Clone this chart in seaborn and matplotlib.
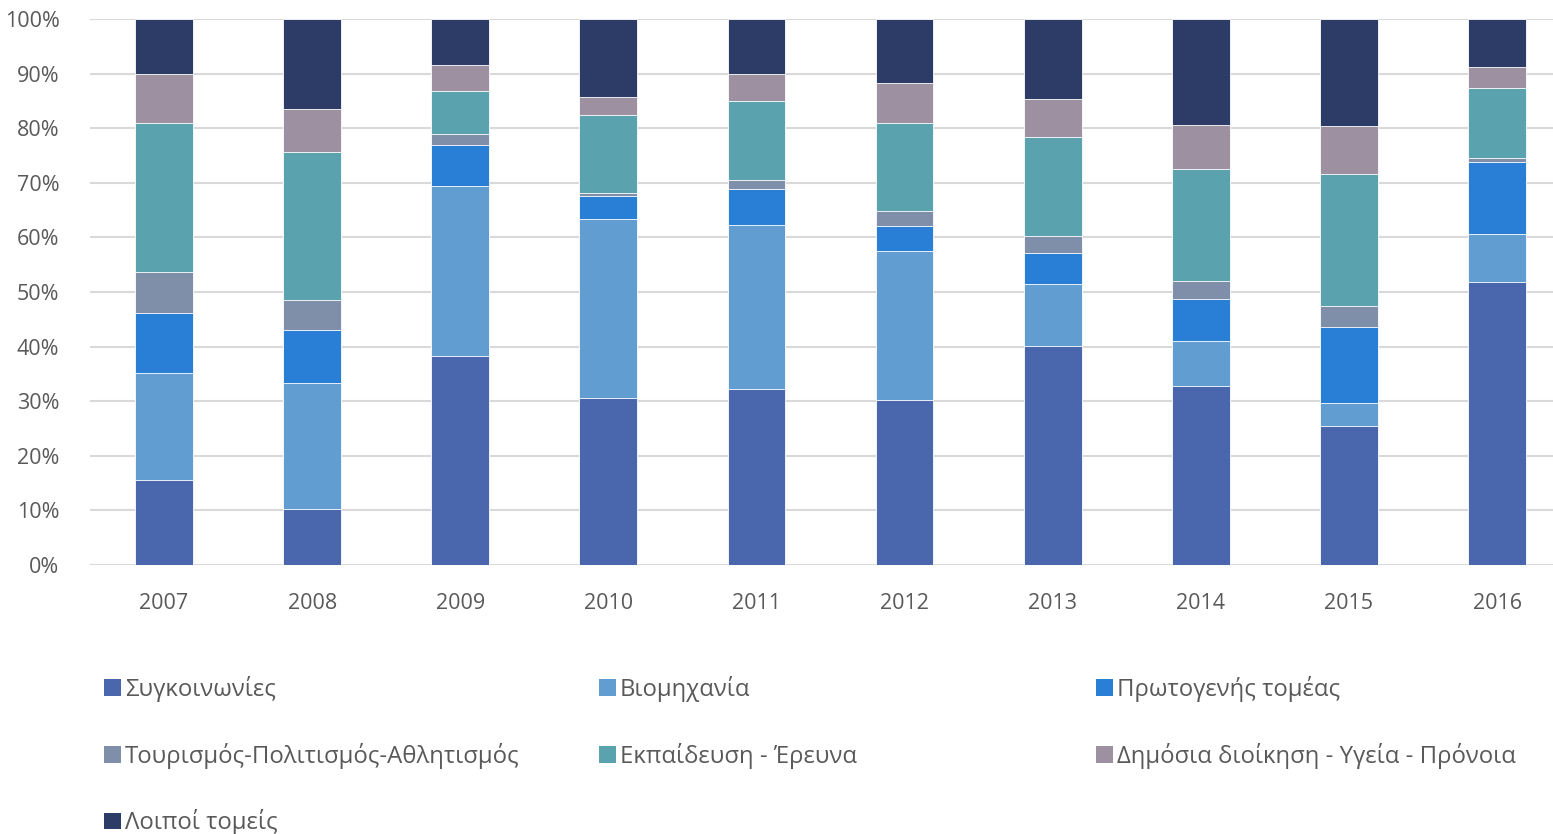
import matplotlib
matplotlib.use("Agg")
import matplotlib.pyplot as plt
from matplotlib.patches import Patch
from matplotlib.ticker import PercentFormatter
import numpy as np
import pandas as pd
import seaborn as sns

# Share of funding by sector, per year (%)
years = ["2007", "2008", "2009", "2010", "2011", "2012", "2013", "2014", "2015", "2016"]
sectors = [
    "Συγκοινωνίες",
    "Βιομηχανία",
    "Πρωτογενής τομέας",
    "Τουρισμός-Πολιτισμός-Αθλητισμός",
    "Εκπαίδευση - Έρευνα",
    "Δημόσια διοίκηση - Υγεία - Πρόνοια",
    "Λοιποί τομείς",
]
transport = [15.6, 10.3, 38.3, 30.6, 32.2, 30.2, 40.2, 32.7, 25.5, 51.8]
industry = [19.5, 23.0, 31.1, 32.8, 30.1, 27.3, 11.3, 8.3, 4.2, 8.8]
primary = [11.0, 9.8, 7.6, 4.1, 6.6, 4.6, 5.7, 7.8, 13.9, 13.3]
tourism = [7.6, 5.4, 1.9, 0.6, 1.7, 2.7, 3.0, 3.3, 3.8, 0.7]
education = [27.2, 27.2, 8.0, 14.3, 14.4, 16.1, 18.1, 20.5, 24.2, 12.7]
public = [9.1, 7.8, 4.7, 3.3, 5.0, 7.4, 7.0, 7.9, 8.8, 3.9]
other = [10.0, 16.5, 8.4, 14.3, 10.0, 11.7, 14.7, 19.5, 19.6, 8.8]

colors = ["#4A66AC", "#629DD1", "#297FD5", "#7F8FA9", "#5AA2AE", "#9D90A0", "#2C3C66"]

series = [transport, industry, primary, tourism, education, public, other]
df = pd.DataFrame(dict(zip(sectors, series)), index=years)
# Normalise each year to 100 %
df = df.div(df.sum(axis=1), axis=0) * 100
cum = df.cumsum(axis=1)

sns.set_theme(style="white")
plt.rcParams["font.family"] = ["Open Sans", "DejaVu Sans"]

fig = plt.figure(figsize=(15.53, 8.34), dpi=100)
ax = fig.add_axes([90 / 1553, 1 - 565 / 834, (1553 - 90) / 1553, (565 - 19) / 834])

# Stacked bars: draw cumulative totals from the top layer down
for sector, color in reversed(list(zip(sectors, colors))):
    sns.barplot(
        x=years, y=cum[sector].values, color=color, width=0.39,
        edgecolor="white", linewidth=0.6, saturation=1, ax=ax, zorder=3,
    )

ax.set_ylim(0, 100)
ax.set_xlim(-0.5, 9.378)
ax.yaxis.set_major_locator(matplotlib.ticker.MultipleLocator(10))
ax.yaxis.set_major_formatter(PercentFormatter(decimals=0))
ax.grid(axis="y", color="#D9D9D9", linewidth=1.5, zorder=0)
ax.set_axisbelow(True)
for s in ax.spines.values():
    s.set_visible(False)
ax.set_xlabel("")
ax.set_ylabel("")
ax.tick_params(axis="both", length=0, labelsize=15.5, labelcolor="#595959")
ax.tick_params(axis="x", pad=20)
ax.tick_params(axis="y", pad=22)

# Legend laid out row-wise in three fixed columns
columns = [[0, 3, 6], [1, 4], [2, 5]]
col_x = [104 / 1553, 599 / 1553, 1096 / 1553]
for xs, idxs in zip(col_x, columns):
    handles = [Patch(facecolor=colors[i], edgecolor="none") for i in idxs]
    labels = [sectors[i] for i in idxs]
    fig.legend(
        handles, labels, loc="upper left", bbox_to_anchor=(xs, 1 - 676 / 834),
        frameon=False, fontsize=17.2, labelcolor="#595959",
        handlelength=0.7, handleheight=0.7, handletextpad=0.18,
        labelspacing=1.7, borderaxespad=0, borderpad=0,
    )

fig.savefig("out.png", dpi=100)
